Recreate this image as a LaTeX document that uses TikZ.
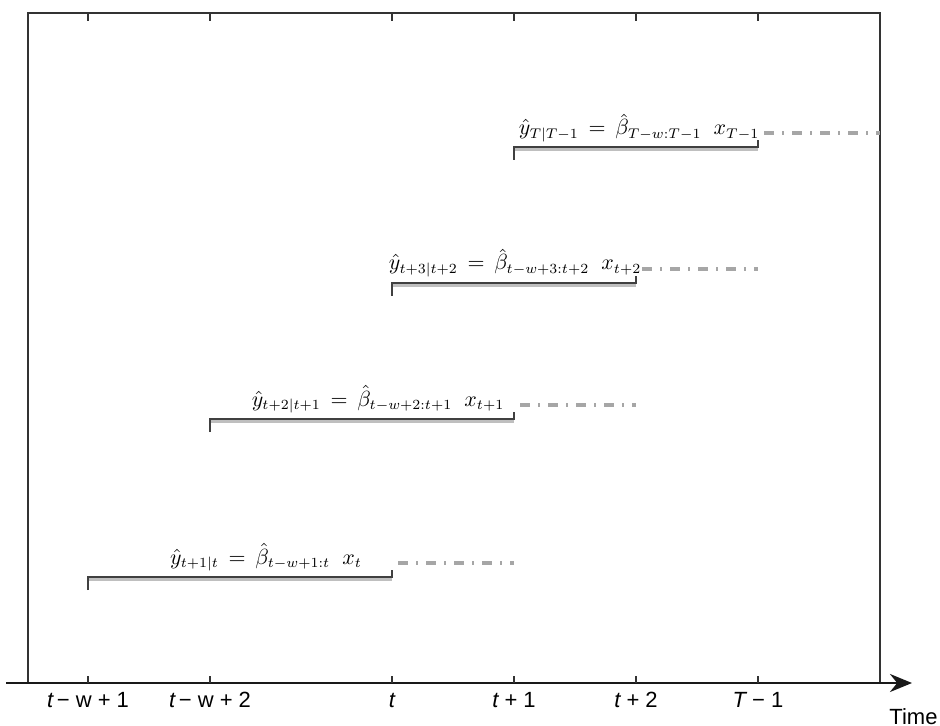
\documentclass[tikz,border=0pt]{standalone}
\usepackage{fontspec}
\newfontfamily\axisfont{Liberation Sans}
\usetikzlibrary{arrows.meta}
\begin{document}
\begin{tikzpicture}[x=0.5pt,y=-0.5pt,
  frame/.style={draw=black!80, line width=1pt},
  axisline/.style={draw=black!90, line width=1.3pt},
  tickmark/.style={draw=black!80, line width=0.6pt},
  barline/.style={draw=black!75, line width=0.7pt},
  shadow/.style={draw=black!25, line width=1.6pt},
  fcast/.style={draw=black!35, line width=1.6pt, dash pattern=on 5pt off 4pt on 1pt off 4pt},
  ticklab/.style={font=\axisfont\fontsize{11}{12}\selectfont, anchor=base, inner sep=0pt},
  eq/.style={font=\fontsize{10.5}{12}\selectfont, anchor=base, inner sep=0pt}]
\useasboundingbox (0,0) rectangle (940,726);
% frame
\coordinate (fbl) at (28,683);
\coordinate (ftl) at (28,13);
\coordinate (ftr) at (880,13);
\coordinate (fbr) at (880,683);
\draw[frame] (fbl) -- (ftl) -- (ftr) -- (fbr);
% axis
\coordinate (ax0) at (6,683);
\coordinate (ax1) at (912,683);
\draw[axisline, -{Stealth[length=11pt,width=9pt]}] (ax0) -- (ax1);
% ticks
\foreach \n/\x/\lab in {a/88/{\itshape t}\,{\char"2212}\ w\ +\ 1,
                        b/210/{\itshape t}\,{\char"2212}\ w\ +\ 2,
                        c/392/{\itshape t},
                        d/514/{\itshape t}\ +\ 1,
                        e/636/{\itshape t}\ +\ 2,
                        f/758/{\itshape T}\ {\char"2212}\ 1}{
  \coordinate (tb\n) at (\x,683);
  \coordinate (tt\n) at (\x,13);
  \draw[tickmark] (tb\n) -- ++(0,-7);
  \draw[tickmark] (tt\n) -- ++(0,8);
  \node[ticklab] (lab\n) at (\x,707) {\lab};
}
\node[font=\axisfont\fontsize{11}{12}\selectfont, anchor=base west, inner sep=0pt] (time) at (889,724) {Time};
% bars
\foreach \n/\xl/\xr/\xe/\y in {1/88/392/514/577, 2/210/514/636/419, 3/392/636/758/283, 4/514/758/880/147}{
  \coordinate (b\n l) at (\xl,\y);
  \coordinate (b\n r) at (\xr,\y);
  \coordinate (d\n s) at (\xr+6,\y-14);
  \coordinate (d\n e) at (\xe,\y-14);
  \draw[shadow] ([yshift=-1pt]b\n l) -- ([yshift=-1pt]b\n r);
  \draw[barline] ([yshift=-6.5pt]b\n l) -- (b\n l) -- (b\n r) -- ([yshift=3.5pt]b\n r);
  \draw[fcast] (d\n s) -- (d\n e);
}
\node[eq] (e1) at (266,564) {$\hat{y}_{t+1|t}\,=\,\hat{\beta}_{t-w+1:t}\;\;x_{t}$};
\node[eq] (e2) at (378,406) {$\hat{y}_{t+2|t+1}\,=\,\hat{\beta}_{t-w+2:t+1}\;\;x_{t+1}$};
\node[eq] (e3) at (515,270) {$\hat{y}_{t+3|t+2}\,=\,\hat{\beta}_{t-w+3:t+2}\;\;x_{t+2}$};
\node[eq] (e4) at (639,135) {$\hat{y}_{T|T-1}\,=\,\hat{\beta}_{T-w:T-1}\;\;x_{T-1}$};
\end{tikzpicture}
\end{document}
